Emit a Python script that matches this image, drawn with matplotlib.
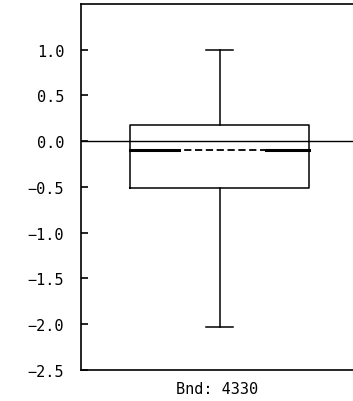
import numpy as np
import matplotlib
matplotlib.use("Agg")
import matplotlib.pyplot as plt

# ---- data
label     = "Bnd: 4330"
whisk_lo  = -2.03
q1        = -0.51
median    = -0.10
q3        = 0.175
whisk_hi  = 1.0
yticks    = [-2.5, -2.0, -1.5, -1.0, -0.5, 0.0, 0.5, 1.0]

plt.rcParams['font.family'] = 'DejaVu Sans Mono'

fig = plt.figure(figsize=(3.53, 4.02), dpi=100)
ax = fig.add_axes([0.229, 0.077, 0.771, 0.911])

pos = 1.0
bw  = 0.66
stats = [dict(med=median, q1=q1, q3=q3, whislo=whisk_lo, whishi=whisk_hi,
              fliers=[], label=label)]
ax.bxp(stats, positions=[pos], widths=bw, showfliers=False,
       boxprops=dict(color='black', lw=1.1),
       whiskerprops=dict(color='black', lw=1.1),
       capprops=dict(color='black', lw=1.1),
       medianprops=dict(color='black', lw=1.3, ls=(0, (4, 2))),
       capwidths=0.1)
# thick ends of the median line
ax.plot([pos - bw / 2, pos - bw / 2 + 0.18], [median, median], color='black', lw=2.2)
ax.plot([pos + bw / 2 - 0.16, pos + bw / 2], [median, median], color='black', lw=2.2)

ax.axhline(0.0, color='black', lw=1.0)

ax.set_xlim(0.49, 1.49)
ax.set_ylim(-2.5, 1.5)
ax.set_yticks(yticks)
ax.set_yticklabels([("%.1f" % v).replace("-", "\u2212") for v in yticks])
ax.set_xticks([])
ax.set_xlabel(label, fontsize=11, labelpad=8)

ax.spines['right'].set_visible(False)
for s in ['left', 'top', 'bottom']:
    ax.spines[s].set_linewidth(1.2)
ax.tick_params(axis='y', direction='in', length=5, width=1.2, labelsize=11, pad=12)

fig.savefig("out.png", dpi=100)
